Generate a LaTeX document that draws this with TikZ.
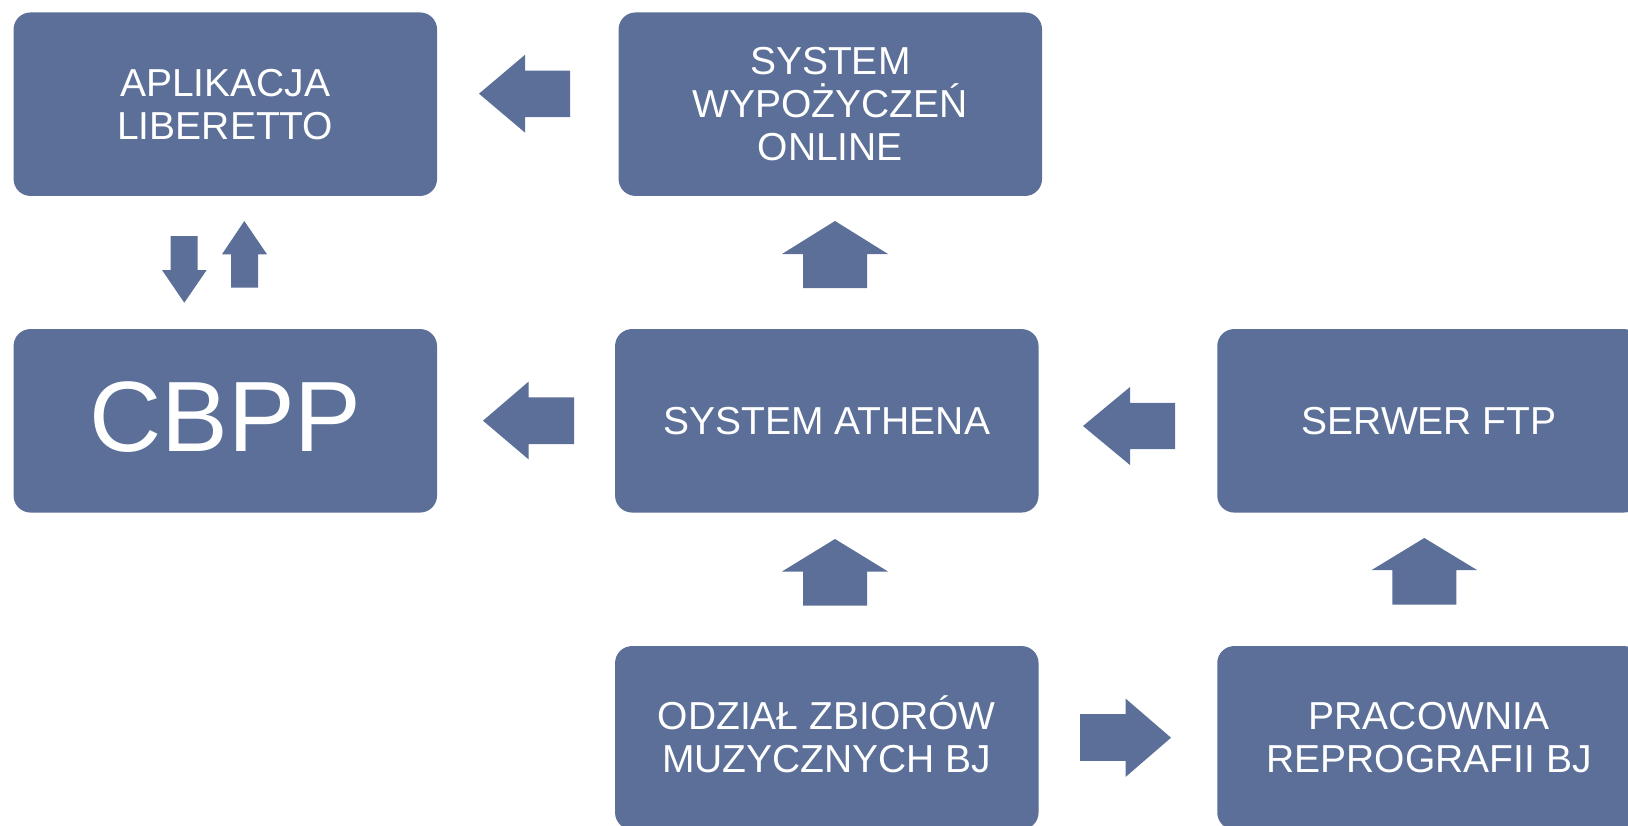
\documentclass[tikz,border=0pt]{standalone}
\usepackage{fontspec}
\setmainfont{Liberation Sans}
\definecolor{boxblue}{RGB}{91,111,152}
\begin{document}
\begin{tikzpicture}[x=1pt,y=-1pt,
  box/.style={fill=boxblue, rounded corners=17pt, minimum width=423.5pt, minimum height=183.5pt,
    inner sep=0pt, text=white, align=center, font=\fontsize{39}{43}\selectfont},
  bigtext/.style={font=\fontsize{100}{110}\selectfont},
  barrow/.style={fill=boxblue}]
\useasboundingbox (0,0) rectangle (1628,825);
\clip (0,0) rectangle (1628,825);
% boxes
\node[box] (app) at (225.3,104.2) {APLIKACJA\\LIBERETTO};
\node[box] (swo) at (830.3,104.2) {SYSTEM\\WYPOŻYCZEŃ\\ONLINE};
\node[box] (cbpp) at (225.3,420.8) {};
\node[bigtext, text=white, yshift=4pt] (cbpptxt) at (cbpp.center) {CBPP};
\node[box] (ath) at (826.8,420.8) {SYSTEM ATHENA};
\node[box] (ftp) at (1429,420.8) {SERWER FTP};
\node[box] (odz) at (826.8,737.8) {ODZIAŁ ZBIOR\smash{Ó}W\\MUZYCZNYCH BJ};
\node[box] (pra) at (1429,737.8) {PRACOWNIA\\REPROGRAFII BJ};
% block arrows
% swo -> app
\fill[barrow] (570,70.6) -- (525,70.6) -- (525,54.8) -- (479,93.7) -- (525,132.6) -- (525,117.2) -- (570,117.2) -- cycle;
% app -> cbpp (down)
\fill[barrow] (170.7,236) -- (197.7,236) -- (197.7,270) -- (206.7,270) -- (184.3,302.7) -- (162,270) -- (170.7,270) -- cycle;
% cbpp -> app (up)
\fill[barrow] (231,287.7) -- (258,287.7) -- (258,254.3) -- (267,254.3) -- (244.3,221) -- (222,254.3) -- (231,254.3) -- cycle;
% ath -> swo (up)
\fill[barrow] (803,288) -- (867,288) -- (867,254) -- (888,254) -- (835,221) -- (782,254) -- (803,254) -- cycle;
% ath -> cbpp
\fill[barrow] (574,397.3) -- (528.5,397.3) -- (528.5,381.7) -- (483,420.7) -- (528.5,459.3) -- (528.5,444) -- (574,444) -- cycle;
% ftp -> ath
\fill[barrow] (1175,402.8) -- (1130,402.8) -- (1130,387) -- (1083,426) -- (1130,465) -- (1130,449) -- (1175,449) -- cycle;
% odz -> ath (up)
\fill[barrow] (803,605.5) -- (867,605.5) -- (867,571.5) -- (888,571.5) -- (835,539) -- (782,571.5) -- (803,571.5) -- cycle;
% pra -> ftp (up)
\fill[barrow] (1392.4,604.5) -- (1456.4,604.5) -- (1456.4,570) -- (1477,570) -- (1424.3,538) -- (1371.7,570) -- (1392.4,570) -- cycle;
% odz -> pra
\fill[barrow] (1080,714) -- (1125.5,714) -- (1125.5,698.5) -- (1171,737.7) -- (1125.5,777) -- (1125.5,760.8) -- (1080,760.8) -- cycle;
\end{tikzpicture}
\end{document}
